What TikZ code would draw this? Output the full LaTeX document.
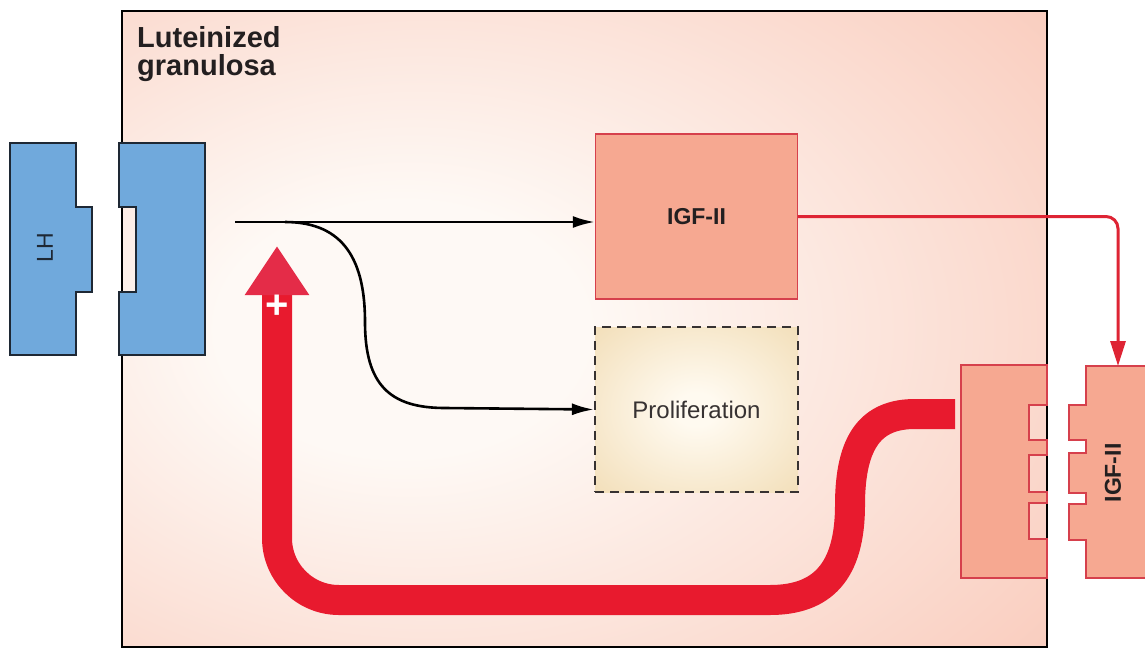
\documentclass[tikz,border=0pt]{standalone}
\usepackage{fontspec}
\setmainfont{Liberation Sans}
\usetikzlibrary{arrows.meta}
\definecolor{cellout}{RGB}{249,203,188}
\definecolor{cellin}{RGB}{254,249,245}
\definecolor{lhblue}{RGB}{112,169,220}
\definecolor{lhedge}{RGB}{30,40,52}
\definecolor{salmon}{RGB}{246,168,145}
\definecolor{salmonline}{RGB}{214,64,76}
\definecolor{thickred}{RGB}{232,26,46}
\definecolor{headred}{RGB}{228,44,72}
\definecolor{thinred}{RGB}{222,36,52}
\definecolor{tanout}{RGB}{237,210,160}
\definecolor{tanin}{RGB}{255,250,240}
\definecolor{textdark}{RGB}{35,31,32}
\definecolor{textgray}{RGB}{55,50,50}
\pgfdeclareradialshading{cellshade}{\pgfpoint{-11bp}{0bp}}{color(0bp)=(cellin); color(10bp)=(cellin); color(42bp)=(cellout); color(100bp)=(cellout)}
\pgfdeclareradialshading{prolshade}{\pgfpoint{0bp}{0bp}}{color(0bp)=(tanin); color(5bp)=(tanin); color(50bp)=(tanout); color(100bp)=(tanout)}
\tikzset{
  cellbox/.style={draw=black, line width=2.4pt, shade, shading=cellshade, inner sep=0pt, anchor=north west},
  titletext/.style={font=\bfseries\fontsize{29}{30}\selectfont, text=textdark, inner sep=0pt},
  lhshape/.style={fill=lhblue, draw=lhedge, line width=1.8pt},
  igfshape/.style={fill=salmon, draw=salmonline, line width=1.4pt},
  igfbox/.style={igfshape, minimum width=202pt, minimum height=165pt, inner sep=0pt,
     font=\bfseries\fontsize{23}{26}\selectfont, text=textdark},
  prolbox/.style={draw=textgray, dashed, dash pattern=on 9pt off 6pt, line width=2.2pt, shade, shading=prolshade,
     minimum width=203pt, minimum height=165pt, inner sep=0pt,
     font=\fontsize{24}{26}\selectfont, text=textgray},
  blackarrow/.style={draw=black, line width=2.6pt, -{Latex[length=22pt,width=12pt]}},
  redthin/.style={draw=thinred, line width=3pt, -{Triangle[length=25pt,width=15pt]}},
  thickarrow/.style={draw=thickred, line width=30pt, line cap=butt, -{Triangle[length=49pt,width=61pt,color=headred]}},
}
\begin{document}
\begin{tikzpicture}[x=1pt,y=-1pt]
\useasboundingbox (0,0) rectangle (1145,653);
\fill[white] (0,0) rectangle (1145,653);
% cell
\node[cellbox, minimum width=925pt, minimum height=636pt] (cell) at (121,10) {};
\node[titletext, anchor=base west] (t1) at (137,47) {Luteinized};
\node[titletext, anchor=base west] (t2) at (137,75) {granulosa};
% LH ligand
\draw[lhshape] (10,143) -- (76,143) -- (76,207) -- (92,207) -- (92,292) -- (76,292) -- (76,355) -- (10,355) -- cycle;
\node[rotate=90, font=\fontsize{23}{24}\selectfont, text=lhedge, inner sep=0pt] (lh) at (45,248) {LH};
% LH receptor
\draw[lhshape] (119,143) -- (205,143) -- (205,355) -- (119,355) -- (119,292) -- (136,292) -- (136,207) -- (119,207) -- cycle;
% boxes
\node[igfbox] (igf) at (696.5,216.5) {IGF-II};
\node[prolbox] (prolif) at (696.5,409.5) {Proliferation};
% IGF-II receptor
\draw[igfshape] (961,365) -- (1047,365) -- (1047,405) -- (1029,405) -- (1029,440) -- (1047,440) -- (1047,455) -- (1029,455) -- (1029,492) -- (1047,492) -- (1047,503) -- (1029,503) -- (1029,539) -- (1047,539) -- (1047,578) -- (961,578) -- cycle;
% IGF-II ligand
\draw[igfshape] (1160,366) -- (1086,366) -- (1086,405) -- (1069,405) -- (1069,440) -- (1086,440) -- (1086,453) -- (1069,453) -- (1069,493) -- (1086,493) -- (1086,504) -- (1069,504) -- (1069,540) -- (1086,540) -- (1086,578) -- (1160,578);
\node[rotate=90, font=\bfseries\fontsize{23}{26}\selectfont, text=textdark, inner sep=0pt] (igflig) at (1113,473) {IGF-II};
% connectors
\coordinate (lhout) at (235,222);
\coordinate (split) at (285,222);
\draw[blackarrow] (lhout) -- (lhout -| igf.west);
\draw[blackarrow] (split) .. controls (345,222) and (365,262) .. (365,322) .. controls (365,385) and (390,408) .. (445,408) -- (prolif.west);
\coordinate (igftop) at (1118,366);
\draw[redthin, rounded corners=12pt] (igf.east) -| (igftop);
% thick feedback arrow
\coordinate (recout) at (955,414);
\coordinate (plustip) at (277,246);
\draw[thickarrow] (recout) -- (915,414) .. controls (872,414) and (850,440) .. (850,505) .. controls (850,572) and (822,600) .. (770,600) [rounded corners=62pt] -- (277,600) -- (plustip);
\node[text=white, font=\bfseries\fontsize{40}{40}\selectfont, inner sep=0pt] (plus) at (277,307) {+};
\end{tikzpicture}
\end{document}
